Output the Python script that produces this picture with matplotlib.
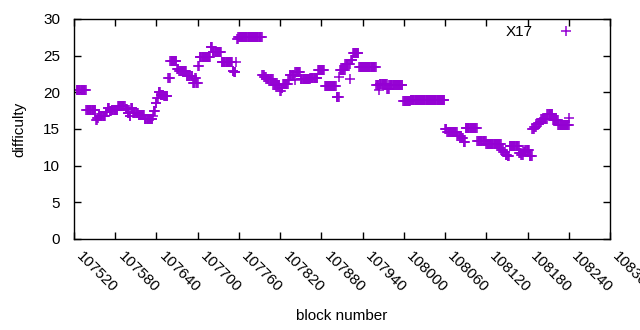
import numpy as np
import matplotlib.pyplot as plt
import matplotlib.transforms as mtransforms

# difficulty per block, stored as runs: block where a run starts and its value
run_start = [107524, 107538, 107552, 107554, 107556, 107566, 107569, 107572,
             107575, 107584, 107595, 107598, 107601, 107603, 107606, 107614,
             107623, 107635, 107636, 107639, 107641, 107643, 107646, 107651,
             107657, 107660, 107670, 107673, 107684, 107693, 107696, 107698,
             107701, 107703, 107719, 107722, 107735, 107751, 107753, 107756,
             107757, 107759, 107794, 107797, 107800, 107810, 107820, 107822,
             107824, 107832, 107834, 107841, 107842, 107850, 107864, 107875,
             107885, 107902, 107906, 107907, 107915, 107922, 107923, 107926,
             107935, 107960, 107964, 107965, 107976, 107979, 107999, 108010,
             108060, 108063, 108078, 108084, 108087, 108090, 108107, 108120,
             108142, 108145, 108148, 108151, 108154, 108168, 108171, 108174,
             108177, 108183, 108187, 108190, 108193, 108198, 108200, 108209,
             108217, 108225, 108241]
run_value = [20.3, 17.6, 16.2, 16.5, 16.8, 17.3, 17.8, 17.5,
             17.6, 18.2, 17.7, 17.2, 16.8, 17.8, 17.2, 16.9,
             16.4, 16.8, 17.5, 18.5, 19.2, 20.0, 19.7, 19.5,
             22.0, 24.3, 23.2, 22.9, 22.2, 21.3, 22.0, 21.3,
             23.6, 24.8, 26.2, 25.5, 24.2, 22.9, 22.8, 24.1,
             27.3, 27.6, 22.4, 22.1, 21.8, 21.0, 20.2, 20.6,
             21.2, 21.7, 22.4, 21.7, 22.8, 21.8, 21.9, 23.0,
             20.8, 19.3, 22.1, 23.0, 23.8, 21.8, 24.4, 25.3,
             23.5, 21.0, 20.3, 21.2, 20.5, 21.0, 18.8, 18.9,
             15.0, 14.6, 14.1, 13.8, 13.2, 15.1, 13.3, 13.0,
             12.2, 11.8, 11.5, 11.3, 12.7, 11.7, 11.4, 11.8,
             12.1, 11.3, 15.0, 15.3, 15.7, 15.9, 16.3, 17.0,
             16.2, 15.6, 16.5]
last_block = 108241

x_ticks = list(range(107520, 108301, 60))
y_ticks = [0, 5, 10, 15, 20, 25, 30]

# expand the runs into one point per block
blocks = []
diffs = []
for i, s in enumerate(run_start):
    end = run_start[i + 1] if i + 1 < len(run_start) else last_block + 1
    for b in range(s, end):
        blocks.append(b)
        diffs.append(run_value[i])

plt.rcParams['font.family'] = ['Liberation Sans', 'DejaVu Sans']
plt.rcParams['font.size'] = 11

fig = plt.figure(figsize=(6.4, 3.3), dpi=100)
ax = fig.add_axes([74 / 640, 1 - 239 / 330, (610 - 74) / 640, (239 - 19) / 330])

ax.plot(blocks, diffs, linestyle='none', marker='+', markersize=7,
        markeredgewidth=1.1, color='#9400d3', label='X17')

ax.set_xlim(107520, 108300)
ax.set_ylim(0, 30)
ax.set_xticks(x_ticks)
ax.set_yticks(y_ticks)
ax.tick_params(direction='in', length=5, width=1, top=True, right=True,
               color='black', labelsize=11)
ax.tick_params(axis='x', pad=6)
ax.tick_params(axis='y', pad=10)

# gnuplot style rotated labels hanging off the tick
shift = mtransforms.ScaledTranslation(10 / 100, -2 / 100, fig.dpi_scale_trans)
for lbl in ax.get_xticklabels():
    lbl.set_rotation(-45)
    lbl.set_ha('left')
    lbl.set_va('top')
    lbl.set_rotation_mode('anchor')
    lbl.set_transform(lbl.get_transform() + shift)
for sp in ax.spines.values():
    sp.set_linewidth(1)

ax.set_xlabel('block number', fontsize=11, labelpad=10)
ax.set_ylabel('difficulty', fontsize=11, labelpad=12)

ax.legend(loc='upper right', frameon=False, markerfirst=False, fontsize=11,
          handlelength=2.8, borderaxespad=0.3, bbox_to_anchor=(0.978, 1.02))

fig.savefig('out.png', dpi=100)
